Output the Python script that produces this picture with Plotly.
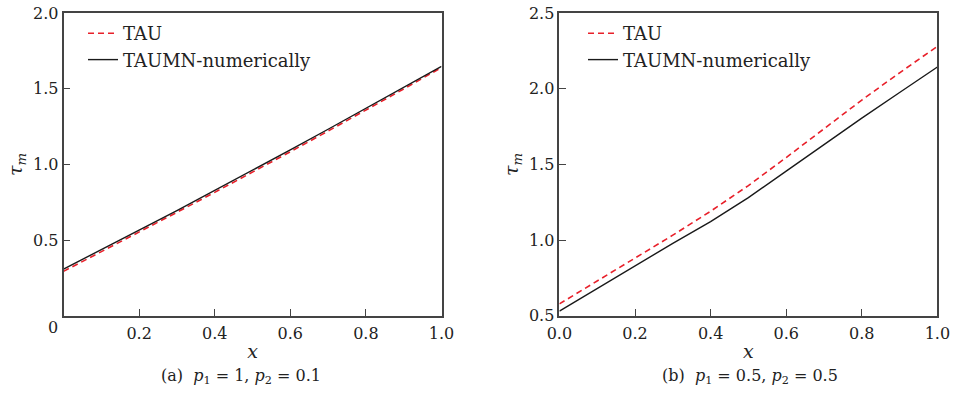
import plotly.graph_objects as go

# Sample positions along x
x_vals = [0.0, 0.1, 0.2, 0.3, 0.4, 0.5, 0.6, 0.7, 0.8, 0.9, 1.0]

# Panel (a): p1 = 1, p2 = 0.1
tau_a = [0.293, 0.422, 0.552, 0.683, 0.815, 0.948, 1.083, 1.220, 1.358, 1.498, 1.640]
taumn_a = [0.308, 0.435, 0.565, 0.695, 0.827, 0.960, 1.095, 1.232, 1.370, 1.510, 1.648]

# Panel (b): p1 = 0.5, p2 = 0.5
tau_b = [0.578, 0.730, 0.880, 1.032, 1.190, 1.360, 1.545, 1.735, 1.925, 2.105, 2.280]
taumn_b = [0.530, 0.680, 0.832, 0.978, 1.122, 1.280, 1.455, 1.632, 1.805, 1.975, 2.143]

# Axis ticks
xticks_a = [0.2, 0.4, 0.6, 0.8, 1.0]
xticklabels_a = ["0.2", "0.4", "0.6", "0.8", "1.0"]
yticks_a = [0.5, 1.0, 1.5, 2.0]
yticklabels_a = ["0.5", "1.0", "1.5", "2.0"]
xticks_b = [0.0, 0.2, 0.4, 0.6, 0.8, 1.0]
xticklabels_b = ["0.0", "0.2", "0.4", "0.6", "0.8", "1.0"]
yticks_b = [0.5, 1.0, 1.5, 2.0, 2.5]
yticklabels_b = ["0.5", "1.0", "1.5", "2.0", "2.5"]

names = ["TAU", "TAUMN-numerically"]
captions = ["(a)  <i>p</i><sub>1</sub> = 1, <i>p</i><sub>2</sub> = 0.1",
            "(b)  <i>p</i><sub>1</sub> = 0.5, <i>p</i><sub>2</sub> = 0.5"]

W, H = 953, 394
SERIF = "DejaVu Serif"
RED = "#e8202a"
BLACK = "#1a1a1a"
AXC = "#444444"
TXT = "#222222"

fig = go.Figure()

# Panel (a)
fig.add_trace(go.Scatter(x=x_vals, y=tau_a, mode="lines", name=names[0],
                         line=dict(color=RED, width=1.6, dash="6px,4px"),
                         xaxis="x", yaxis="y", legend="legend"))
fig.add_trace(go.Scatter(x=x_vals, y=taumn_a, mode="lines", name=names[1],
                         line=dict(color=BLACK, width=1.4),
                         xaxis="x", yaxis="y", legend="legend"))
# Panel (b)
fig.add_trace(go.Scatter(x=x_vals, y=tau_b, mode="lines", name=names[0],
                         line=dict(color=RED, width=1.6, dash="6px,4px"),
                         xaxis="x2", yaxis="y2", legend="legend2"))
fig.add_trace(go.Scatter(x=x_vals, y=taumn_b, mode="lines", name=names[1],
                         line=dict(color=BLACK, width=1.4),
                         xaxis="x2", yaxis="y2", legend="legend2"))

tick_font = dict(family=SERIF, size=16, color=TXT)
title_font = dict(family=SERIF, size=19, color=TXT)
legend_font = dict(family=SERIF, size=18, color=TXT)
caption_font = dict(family=SERIF, size=16, color=TXT)

common_axis = dict(showline=True, linecolor=AXC, linewidth=1.6, mirror=True,
                   ticks="inside", ticklen=7, tickwidth=1.3, tickcolor=AXC,
                   showgrid=False, zeroline=False, tickfont=tick_font,
                   automargin=False)

ydom = [(H - 315.7) / H, (H - 13) / H]

fig.update_layout(
    width=W, height=H, autosize=False,
    margin=dict(l=0, r=0, t=0, b=0, autoexpand=False),
    paper_bgcolor="white", plot_bgcolor="white",
    showlegend=True,
    font=dict(family=SERIF, size=16, color=TXT),
    xaxis=dict(domain=[63.5 / W, 441.5 / W], range=[0, 1],
               tickvals=xticks_a, ticktext=xticklabels_a, ticklabelstandoff=2,
               title=dict(text="<i>x</i>", font=title_font, standoff=3),
               anchor="y", **common_axis),
    yaxis=dict(domain=ydom, range=[0, 2],
               tickvals=yticks_a, ticktext=yticklabels_a,
               title=dict(text="<i>τ</i><sub><i>m</i></sub>", font=title_font, standoff=5),
               anchor="x", **common_axis),
    xaxis2=dict(domain=[559.4 / W, 937.4 / W], range=[0, 1],
                tickvals=xticks_b, ticktext=xticklabels_b, ticklabelstandoff=2,
                title=dict(text="<i>x</i>", font=title_font, standoff=3),
                anchor="y2", **common_axis),
    yaxis2=dict(domain=ydom, range=[0.5, 2.5],
                tickvals=yticks_b, ticktext=yticklabels_b,
                title=dict(text="<i>τ</i><sub><i>m</i></sub>", font=title_font, standoff=5),
                anchor="x2", **common_axis),
    legend=dict(x=83 / W, y=1 - 15 / H, xanchor="left", yanchor="top",
                bgcolor="rgba(0,0,0,0)", borderwidth=0,
                font=legend_font, tracegroupgap=0),
    legend2=dict(x=583 / W, y=1 - 15 / H, xanchor="left", yanchor="top",
                 bgcolor="rgba(0,0,0,0)", borderwidth=0,
                 font=legend_font, tracegroupgap=0),
)

# Origin label of panel (a) and the panel captions
fig.add_annotation(x=52.5 / W, y=1 - 327 / H, xref="paper", yref="paper",
                   text="0", showarrow=False, font=tick_font,
                   xanchor="center", yanchor="middle")
fig.add_annotation(x=241 / W, y=1 - 376 / H, xref="paper", yref="paper",
                   text=captions[0], showarrow=False, font=caption_font,
                   xanchor="center", yanchor="middle")
fig.add_annotation(x=750 / W, y=1 - 376 / H, xref="paper", yref="paper",
                   text=captions[1], showarrow=False, font=caption_font,
                   xanchor="center", yanchor="middle")

fig.write_html("out.html")
